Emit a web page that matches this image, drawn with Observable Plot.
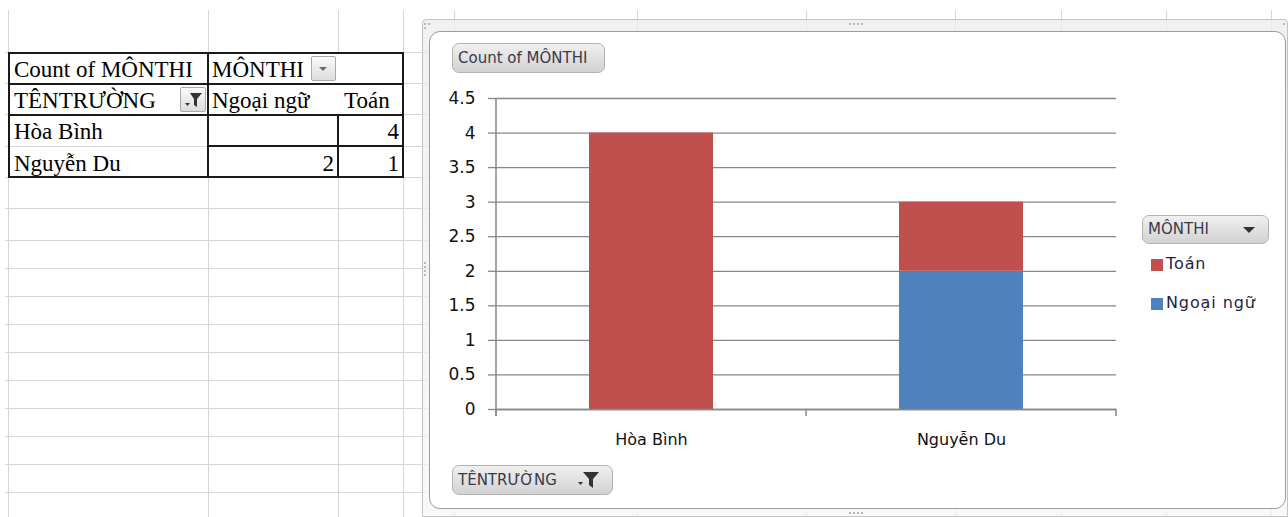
<!DOCTYPE html>
<html>
<head>
<meta charset="utf-8">
<script src="https://cdn.jsdelivr.net/npm/d3@7"></script>
<script src="https://cdn.jsdelivr.net/npm/@observablehq/plot@0.6"></script>
<style>
  html, body { margin: 0; padding: 0; }
  body { width: 1288px; height: 517px; overflow: hidden; background: #fff; position: relative; font-family: "DejaVu Sans", sans-serif; }
  .abs { position: absolute; }
  .hl { position: absolute; height: 1px; background: #d6d6d6; }
  .vl { position: absolute; width: 1px; background: #d6d6d6; }
  .tl { position: absolute; background: #1a1a1a; }
  .cell { position: absolute; font-family: "Liberation Serif", serif; font-size: 23px; color: #000; white-space: nowrap; line-height: 31px; height: 31px; }
  .btn { position: absolute; box-sizing: border-box; border: 1px solid #b3b3b3; border-radius: 7px;
         background: linear-gradient(#f0f0f0, #d2d2d2); color: #3a3a4a; white-space: nowrap; }
  .sbtn { position: absolute; box-sizing: border-box; border: 1px solid #a9a9a9; border-radius: 2px;
          background: linear-gradient(#fbfbfb, #dcdcdc); }
  .legtxt { position: absolute; font-family: "DejaVu Sans", sans-serif; font-size: 16px; color: #1f1f3f; white-space: nowrap; letter-spacing: 0.9px; }
  .grip { position: absolute; width: 2px; height: 2px; background: #b9b9b9; }
</style>
</head>
<body>
<div id="sheet"></div>
<div id="pivot"></div>
<div id="chart"></div>
<script>
// ---------- data ----------
const schools = ["Hòa Bình", "Nguyễn Du"];
const subjects = ["Ngoại ngữ", "Toán"];          // stacking order bottom -> top
const countNgoaiNgu = [null, 2];
const countToan = [4, 1];
const subjectColors = ["#4F81BD", "#C0504D"];
const legendOrder = ["Toán", "Ngoại ngữ"];
const yTicks = [0, 0.5, 1, 1.5, 2, 2.5, 3, 3.5, 4, 4.5];
const valueFieldLabel = "Count of MÔNTHI";
const columnFieldLabel = "MÔNTHI";
const rowFieldLabel = "TÊNTRƯỜNG";

// ---------- spreadsheet background ----------
const sheet = document.getElementById("sheet");
function add(parent, cls, css, html) {
  const d = document.createElement("div");
  d.className = cls;
  Object.assign(d.style, css);
  if (html != null) d.innerHTML = html;
  parent.appendChild(d);
  return d;
}
const sheetCols = [8, 208, 338, 403];
const sheetColsTop = [454, 637, 806, 955, 1061, 1166, 1271];
const sheetRows = [52, 83, 114, 146, 177, 208, 240, 268, 296, 324, 352, 380, 408, 436, 464, 492];
sheetCols.forEach(x => add(sheet, "vl", {left: x + "px", top: "10px", height: "507px"}));
sheetColsTop.forEach(x => add(sheet, "vl", {left: x + "px", top: "10px", height: "507px"}));
sheetRows.forEach(y => add(sheet, "hl", {left: "5px", top: y + "px", width: "425px"}));

// ---------- pivot table ----------
const pv = document.getElementById("pivot");
// white backgrounds to hide sheet lines inside header cells
add(pv, "abs", {left: "9px", top: "53px", width: "394px", height: "61px", background: "#fff"});
add(pv, "abs", {left: "209px", top: "115px", width: "194px", height: "62px", background: "#fff"});
// text
add(pv, "cell", {left: "14px", top: "54px"}, valueFieldLabel);
add(pv, "cell", {left: "212px", top: "54px"}, columnFieldLabel);
add(pv, "cell", {left: "14px", top: "85px"}, rowFieldLabel);
add(pv, "cell", {left: "212px", top: "85px"}, subjects[0]);
add(pv, "cell", {left: "344px", top: "85px"}, subjects[1]);
schools.forEach((s, i) => {
  const top = 116 + i * 32;
  add(pv, "cell", {left: "14px", top: top + "px"}, s);
  if (countNgoaiNgu[i] != null) add(pv, "cell", {left: "210px", width: "124px", textAlign: "right", top: top + "px"}, String(countNgoaiNgu[i]));
  if (countToan[i] != null) add(pv, "cell", {left: "340px", width: "59px", textAlign: "right", top: top + "px"}, String(countToan[i]));
});
// table borders
add(pv, "tl", {left: "8px", top: "52px", width: "396px", height: "2px"});
add(pv, "tl", {left: "8px", top: "176px", width: "396px", height: "2px"});
add(pv, "tl", {left: "8px", top: "52px", width: "2px", height: "126px"});
add(pv, "tl", {left: "402px", top: "52px", width: "2px", height: "126px"});
add(pv, "tl", {left: "207px", top: "52px", width: "2px", height: "126px"});
add(pv, "tl", {left: "337px", top: "114px", width: "2px", height: "64px"});
add(pv, "tl", {left: "8px", top: "83px", width: "396px", height: "2px"});
add(pv, "tl", {left: "8px", top: "114px", width: "396px", height: "2px"});
add(pv, "tl", {left: "207px", top: "145px", width: "197px", height: "2px"});
// dropdown / filter buttons in table
add(pv, "sbtn", {left: "311px", top: "56px", width: "25px", height: "25px"},
  '<svg width="23" height="23" style="position:absolute;left:0;top:0"><path d="M7,10 L15,10 L11,14 Z" fill="#6a6a6a"/></svg>');
add(pv, "sbtn", {left: "180px", top: "87px", width: "26px", height: "25px"},
  '<svg width="24" height="23" style="position:absolute;left:0;top:0"><path d="M4,15 L9,15 L6.5,18 Z" fill="#333"/><path d="M9,5 L21,5 L16,11 L16,19 L13,17 L13,11 Z" fill="#333"/></svg>');

// ---------- chart frame ----------
const ch = document.getElementById("chart");
// outer semi-transparent band
add(ch, "abs", {left: "422px", top: "19px", width: "866px", height: "498px", boxSizing: "border-box",
  border: "1px solid #c4c4c4", borderRadius: "4px 4px 0 0",
  background: "linear-gradient(rgba(236,236,236,0.75), rgba(246,246,246,0.75))"});
// inner white area
add(ch, "abs", {left: "429px", top: "31px", width: "857px", height: "478px", boxSizing: "border-box",
  border: "1.5px solid #9c9c9c", borderRadius: "11px", background: "#fff"});
// grips
[[849, 23], [853, 23], [857, 23], [861, 23], [849, 512], [853, 512], [857, 512], [861, 512],
 [424, 262], [424, 266], [424, 270], [424, 274], [424, 23], [428, 23], [424, 27], [1283, 23]].forEach(([x, y]) =>
  add(ch, "grip", {left: x + "px", top: y + "px"}));

// title button
add(ch, "btn", {left: "452px", top: "43px", width: "153px", height: "30px", fontSize: "15px", lineHeight: "28px", paddingLeft: "5px"}, valueFieldLabel);
// axis field button
add(ch, "btn", {left: "452px", top: "465px", width: "161px", height: "30px", fontSize: "15px", lineHeight: "28px", paddingLeft: "5px"},
  rowFieldLabel + '<svg width="34" height="22" style="position:absolute;right:6px;top:3px"><path d="M6,13 L11,13 L8.5,16 Z" fill="#333"/><path d="M11,3 L27,3 L21,10 L21,19 L17,16 L17,10 Z" fill="#333"/></svg>');
// legend field button
add(ch, "btn", {left: "1142px", top: "215px", width: "127px", height: "29px", fontSize: "15px", lineHeight: "27px", paddingLeft: "5px"},
  columnFieldLabel + '<svg width="16" height="12" style="position:absolute;right:10px;top:9px"><path d="M1,2 L13,2 L7,8 Z" fill="#333"/></svg>');
// legend entries
legendOrder.forEach((name, i) => {
  const col = subjectColors[subjects.indexOf(name)];
  const top = 259 + i * 39;
  add(ch, "abs", {left: "1151px", top: top + "px", width: "12px", height: "12px", background: col});
  add(ch, "legtxt", {left: "1166px", top: (top - 5) + "px"}, name);
});

// ---------- plot ----------
const rows = [];
schools.forEach((s, i) => {
  if (countNgoaiNgu[i] != null) rows.push({school: s, subject: subjects[0], count: countNgoaiNgu[i]});
  if (countToan[i] != null) rows.push({school: s, subject: subjects[1], count: countToan[i]});
});
const gridColor = "#878787";

function categoryBoundaryTicks(index, scales) {
  const x = scales.x, y = scales.y;
  const bw = typeof x.bandwidth === "function" ? x.bandwidth() : (scales.scales && scales.scales.x ? scales.scales.x.bandwidth : 0);
  const step = x(schools[1]) - x(schools[0]);
  const centers = schools.map(s => x(s) + bw / 2);
  const bounds = centers.map(c => c - step / 2).concat([centers[centers.length - 1] + step / 2]);
  const y0 = y(0);
  const g = d3.create("svg:g");
  g.selectAll("line").data(bounds).join("line")
    .attr("x1", d => d).attr("x2", d => d)
    .attr("y1", y(yTicks[yTicks.length - 1])).attr("y2", (d, i) => i === 0 ? y0 + 7 : y0)
    .attr("stroke", gridColor).attr("stroke-width", (d, i) => i === 0 ? 1.5 : 0);
  g.selectAll("line.t").data(bounds).join("line").attr("class", "t")
    .attr("x1", d => d).attr("x2", d => d)
    .attr("y1", y0).attr("y2", y0 + 7)
    .attr("stroke", gridColor).attr("stroke-width", 1.5);
  return g.node();
}

const plot = Plot.plot({
  width: 701,
  height: 384,
  marginLeft: 70,
  marginRight: 10,
  marginTop: 28,
  marginBottom: 45,
  style: {fontFamily: "DejaVu Sans, sans-serif", fontSize: "17px", color: "#000", background: "transparent", overflow: "visible"},
  x: {domain: schools, paddingInner: 0.6, paddingOuter: 0.3, label: null},
  y: {domain: [0, 4.5], label: null},
  color: {domain: subjects, range: subjectColors},
  marks: [
    Plot.gridY(yTicks, {stroke: gridColor, strokeOpacity: 1, strokeWidth: 1.3}),
    Plot.barY(rows, {x: "school", y: "count", fill: "subject", order: subjects}),
    Plot.ruleY([0], {stroke: gridColor, strokeWidth: 1.3}),
    Plot.axisY(yTicks, {tickSize: 7, tickPadding: 13, stroke: gridColor, strokeWidth: 1.3, tickFormat: d => String(d), fontSize: 17, fill: "#111"}),
    Plot.axisX({tickSize: 0, tickPadding: 24, fontSize: 16, fill: "#111", style: {letterSpacing: "0.8px"}}),
    categoryBoundaryTicks
  ]
});
plot.style.position = "absolute";
plot.style.left = "425px";
plot.style.top = "70px";
plot.style.maxWidth = "none";
ch.appendChild(plot);
</script>
</body>
</html>
